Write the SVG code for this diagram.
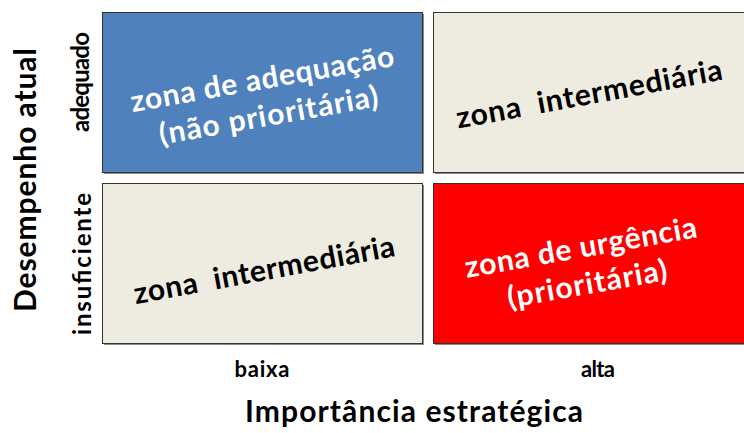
<svg xmlns="http://www.w3.org/2000/svg" width="744" height="433" viewBox="0 0 744 433">
<style>
text{font-family:Lato,"Open Sans","Liberation Sans",sans-serif;font-weight:bold;text-anchor:middle}
.box{stroke:#333333;stroke-width:1}
.sh{fill:#8a8a8a}
.big{font-size:30px}
.ax{font-size:30px;fill:#000}
.lab{font-size:22px;fill:#000}
.vl{font-size:24px;fill:#000}
.w{fill:#ffffff}
.k{fill:#000000}
</style>
<rect width="744" height="433" fill="#ffffff"/>
<g id="q-adequacao">
<rect class="sh" x="104" y="14" width="320" height="160"/>
<rect class="box" x="102.5" y="12.5" width="320" height="160" fill="#4F81BD"/>
<g transform="translate(264,89) rotate(-10)">
<text class="big w" x="0" y="0" textLength="267">zona de adequação</text>
<text class="big w" x="0" y="37" textLength="222">(não prioritária)</text>
</g>
</g>
<g id="q-intermediaria-top">
<rect class="sh" x="435" y="14" width="320" height="160"/>
<rect class="box" x="433.5" y="12.5" width="320" height="160" fill="#EEECE1"/>
<text class="big k" transform="translate(591,104) rotate(-10.5)" x="0" y="0" textLength="270" xml:space="preserve">zona  intermediária</text>
</g>
<g id="q-intermediaria-bottom">
<rect class="sh" x="104" y="185" width="320" height="160"/>
<rect class="box" x="102.5" y="183.5" width="320" height="160" fill="#EEECE1"/>
<text class="big k" transform="translate(266,280) rotate(-10.5)" x="0" y="0" textLength="265" xml:space="preserve">zona  intermediária</text>
</g>
<g id="q-urgencia">
<rect class="sh" x="435" y="185" width="320" height="160"/>
<rect class="box" x="433.5" y="183.5" width="320" height="160" fill="#FF0000"/>
<g transform="translate(582.5,257.5) rotate(-10)">
<text class="big w" x="0" y="0" textLength="235">zona de urgência</text>
<text class="big w" x="0" y="37" textLength="162">(prioritária)</text>
</g>
</g>
<g id="axis-y">
<text class="ax" transform="translate(36,180) rotate(-90)" textLength="264">Desempenho atual</text>
<text class="vl" transform="translate(89,82) rotate(-90)" textLength="100">adequado</text>
<text class="vl" transform="translate(91,264) rotate(-90)" textLength="142">insuficiente</text>
</g>
<g id="axis-x">
<text class="lab" x="262" y="377" textLength="55">baixa</text>
<text class="lab" x="598" y="377" textLength="34">alta</text>
<text class="ax" x="414" y="422" textLength="338">Importância estratégica</text>
</g>
<g id="connectors"></g>
</svg>
